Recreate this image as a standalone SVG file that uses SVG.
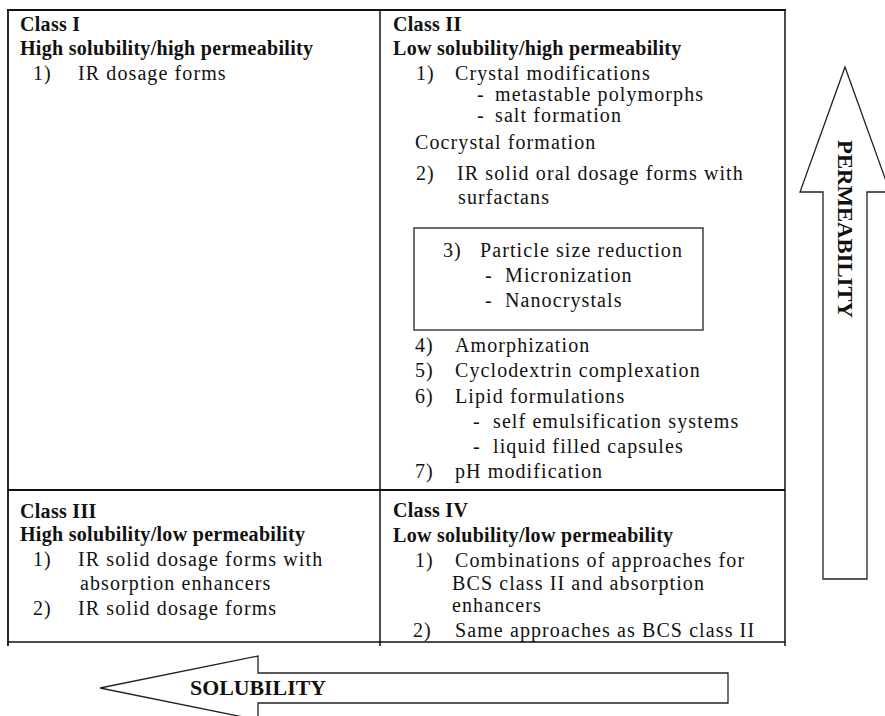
<svg xmlns="http://www.w3.org/2000/svg" width="885" height="716" viewBox="0 0 885 716">
<style>
.h{font-family:"Liberation Serif","Times New Roman",serif;font-weight:bold;font-size:20px;letter-spacing:0.3px;fill:#111}
.t{font-family:"Liberation Serif","Times New Roman",serif;font-size:20px;letter-spacing:1.1px;fill:#111}
.ln{stroke:#111;fill:none}
.arr{fill:#fff;stroke:#222;stroke-width:1.3;stroke-linejoin:miter}
.al{font-family:"Liberation Serif","Times New Roman",serif;font-weight:bold;font-size:20px;fill:#111}
</style>
<rect width="885" height="716" fill="#fff"/>
<g id="grid">
<line class="ln" x1="7" y1="10" x2="786" y2="10" stroke-width="2.2"/>
<line class="ln" x1="8" y1="9" x2="8" y2="646" stroke-width="1.8"/>
<line class="ln" x1="380" y1="10" x2="380" y2="646" stroke-width="1.5"/>
<line class="ln" x1="785" y1="9" x2="785" y2="646" stroke-width="1.5"/>
<line class="ln" x1="8" y1="490" x2="785" y2="490" stroke-width="2"/>
<line class="ln" x1="8" y1="642" x2="785" y2="642" stroke-width="1.6"/>
</g>
<g id="class1">
<text class="h" x="20" y="31">Class I</text>
<text class="h" x="20" y="55">High solubility/high permeability</text>
<text class="t" x="33" y="80">1)</text><text class="t" x="78" y="80">IR dosage forms</text>
</g>
<g id="class2">
<text class="h" x="393" y="31">Class II</text>
<text class="h" x="393" y="55">Low solubility/high permeability</text>
<text class="t" x="416" y="80">1)</text><text class="t" x="455" y="80">Crystal modifications</text>
<text class="t" x="477" y="101">-</text><text class="t" x="495" y="101">metastable polymorphs</text>
<text class="t" x="477" y="122">-</text><text class="t" x="495" y="122">salt formation</text>
<text class="t" x="415" y="149">Cocrystal formation</text>
<text class="t" x="416" y="180">2)</text><text class="t" x="457" y="180">IR solid oral dosage forms with</text>
<text class="t" x="458" y="204">surfactans</text>
<text class="t" x="415" y="352">4)</text><text class="t" x="455" y="352">Amorphization</text>
<text class="t" x="415" y="377">5)</text><text class="t" x="455" y="377">Cyclodextrin complexation</text>
<text class="t" x="415" y="403">6)</text><text class="t" x="455" y="403">Lipid formulations</text>
<text class="t" x="473" y="428">-</text><text class="t" x="493" y="428">self emulsification systems</text>
<text class="t" x="473" y="453">-</text><text class="t" x="493" y="453">liquid filled capsules</text>
<text class="t" x="415" y="478">7)</text><text class="t" x="455" y="478">pH modification</text>
</g>
<g id="particle-box">
<rect x="414" y="228" width="289" height="102" fill="none" stroke="#222" stroke-width="1.3"/>
<text class="t" x="443" y="257">3)</text><text class="t" x="480" y="257">Particle size reduction</text>
<text class="t" x="485" y="282">-</text><text class="t" x="505" y="282">Micronization</text>
<text class="t" x="485" y="307">-</text><text class="t" x="505" y="307">Nanocrystals</text>
</g>
<g id="class3">
<text class="h" x="20" y="518">Class III</text>
<text class="h" x="20" y="541">High solubility/low permeability</text>
<text class="t" x="33" y="566">1)</text><text class="t" x="78" y="566">IR solid dosage forms with</text>
<text class="t" x="80" y="590">absorption enhancers</text>
<text class="t" x="33" y="615">2)</text><text class="t" x="78" y="615">IR solid dosage forms</text>
</g>
<g id="class4">
<text class="h" x="393" y="517">Class IV</text>
<text class="h" x="393" y="542">Low solubility/low permeability</text>
<text class="t" x="415" y="567">1)</text><text class="t" x="455" y="567">Combinations of approaches for</text>
<text class="t" x="452" y="590">BCS class II and absorption</text>
<text class="t" x="452" y="612">enhancers</text>
<text class="t" x="413" y="637">2)</text><text class="t" x="455" y="637">Same approaches as BCS class II</text>
</g>
<g id="permeability-arrow">
<polygon class="arr" points="845,67 890,192 867,192 867,579 823,579 823,192 800,192"/>
<text class="al" font-size="21" transform="translate(838,140) rotate(90)" textLength="178" lengthAdjust="spacingAndGlyphs">PERMEABILITY</text>
</g>
<g id="solubility-arrow">
<polygon class="arr" points="100,688 258,656 258,673 728,673 728,703 258,703 258,720"/>
<text class="al" x="190" y="695" textLength="136" lengthAdjust="spacingAndGlyphs">SOLUBILITY</text>
</g>
</svg>
